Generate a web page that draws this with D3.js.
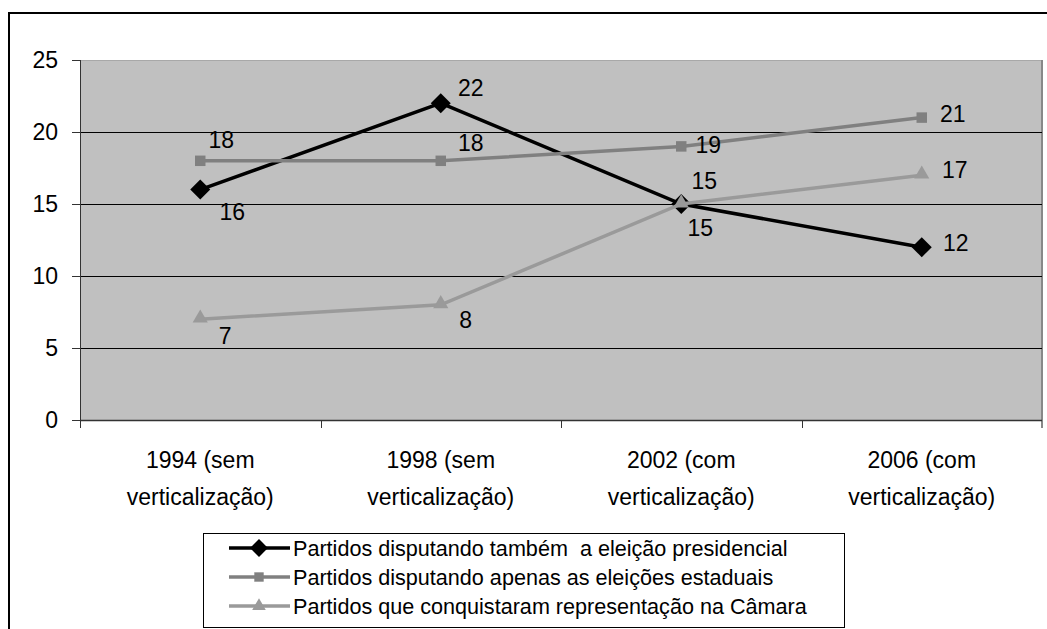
<!DOCTYPE html>
<html>
<head>
<meta charset="utf-8">
<script src="https://d3js.org/d3.v7.min.js"></script>
<style>
  body { margin: 0; background: #fff; }
  text { font-family: "Liberation Sans", Arial, sans-serif; fill: #000; }
</style>
</head>
<body>
<div id="chart"></div>
<script>
// data
var categories = ["1994 (sem\nverticalização)", "1998 (sem\nverticalização)", "2002 (com\nverticalização)", "2006 (com\nverticalização)"];
var seriesNames = [
  "Partidos disputando também  a eleição presidencial",
  "Partidos disputando apenas as eleições estaduais",
  "Partidos que conquistaram representação na Câmara"
];
var presidencial = [16, 22, 15, 12];
var estaduais = [18, 18, 19, 21];
var camara = [7, 8, 15, 17];
var yTicks = [0, 5, 10, 15, 20, 25];

// label nudges (px) for each point, as placed in the original
var labelOffsets = [
  [[32, 22], [30, -15], [19, 24], [34, -4]],
  [[21, -21], [30, -18], [27, -1], [31, -4]],
  [[25, 17], [25, 15], [23, -23], [33, -5]]
];

var FS = 23;

var series = [
  { name: seriesNames[0], values: presidencial, color: "#000000", marker: d3.symbolSquare, size: 200, rot: 45 },
  { name: seriesNames[1], values: estaduais, color: "#808080", marker: d3.symbolSquare, size: 110, rot: 0 },
  { name: seriesNames[2], values: camara, color: "#9a9a9a", marker: d3.symbolTriangle, size: 100, rot: 0 }
];

var W = 1047, H = 629;
var svg = d3.select("#chart").append("svg")
    .attr("width", W)
    .attr("height", H);

// outer frame
svg.append("rect")
    .attr("x", 9).attr("y", 13)
    .attr("width", W + 20).attr("height", H + 20)
    .attr("fill", "none")
    .attr("stroke", "#000")
    .attr("stroke-width", 2);

var x = d3.scaleBand().domain(categories).range([80, 1042]).paddingInner(0).paddingOuter(0);
var y = d3.scaleLinear().domain([0, 25]).range([420, 60]);

var cx = function(i) { return x(categories[i]) + x.bandwidth() / 2; };

// plot area
svg.append("rect")
    .attr("x", x.range()[0]).attr("y", y(25))
    .attr("width", x.range()[1] - x.range()[0])
    .attr("height", y(0) - y(25))
    .attr("fill", "#c0c0c0");

// top & right border of plot area
svg.append("line")
    .attr("x1", x.range()[0]).attr("x2", x.range()[1])
    .attr("y1", y(25) + 0.5).attr("y2", y(25) + 0.5)
    .attr("stroke", "#a8a8a8").attr("stroke-width", 1);
svg.append("line")
    .attr("x1", x.range()[1]).attr("x2", x.range()[1])
    .attr("y1", y(25)).attr("y2", y(0) + 8)
    .attr("stroke", "#888").attr("stroke-width", 2);

// gridlines
svg.append("g").selectAll("line")
    .data(yTicks.filter(function(d) { return d > 0 && d < 25; }))
    .enter().append("line")
    .attr("x1", x.range()[0]).attr("x2", x.range()[1])
    .attr("y1", function(d) { return Math.round(y(d)) + 0.5; })
    .attr("y2", function(d) { return Math.round(y(d)) + 0.5; })
    .attr("stroke", "#000").attr("stroke-width", 1);

// y axis
var yAxis = svg.append("g")
    .attr("transform", "translate(" + x.range()[0] + ",0)")
    .call(d3.axisLeft(y).tickValues(yTicks).tickSize(8).tickPadding(14));
yAxis.select(".domain").attr("d", "M0.5," + y(25) + "V" + (y(0) + 8)).attr("stroke", "#333");
yAxis.selectAll(".tick line").attr("stroke", "#333");
yAxis.selectAll("text")
    .style("font-family", "Liberation Sans, Arial, sans-serif")
    .style("font-size", FS + "px")
    .attr("fill", "#000");

// x axis line + ticks at band edges
svg.append("line")
    .attr("x1", x.range()[0]).attr("x2", x.range()[1])
    .attr("y1", y(0) + 0.5).attr("y2", y(0) + 0.5)
    .attr("stroke", "#333").attr("stroke-width", 1.5);
var edges = categories.map(function(c) { return x(c); }).concat([x.range()[1]]);
svg.append("g").selectAll("line")
    .data(edges.slice(1, 4))
    .enter().append("line")
    .attr("x1", function(d) { return Math.round(d) + 0.5; })
    .attr("x2", function(d) { return Math.round(d) + 0.5; })
    .attr("y1", y(0)).attr("y2", y(0) + 8)
    .attr("stroke", "#333");

// category labels
var xl = svg.append("g").selectAll("text")
    .data(categories)
    .enter().append("text")
    .attr("text-anchor", "middle")
    .attr("font-size", FS)
    .attr("x", function(d, i) { return cx(i); });
xl.each(function(d) {
  var t = d3.select(this);
  d.split("\n").forEach(function(part, k) {
    t.append("tspan")
      .attr("x", t.attr("x"))
      .attr("y", 468 + k * 37)
      .text(part);
  });
});

// lines and markers
var line = d3.line()
    .x(function(d, i) { return cx(i); })
    .y(function(d) { return y(d); });

series.forEach(function(s, si) {
  var g = svg.append("g");
  g.append("path")
    .attr("d", line(s.values))
    .attr("fill", "none")
    .attr("stroke", s.color)
    .attr("stroke-width", 3.5);
  g.selectAll("path.mk")
    .data(s.values)
    .enter().append("path")
    .attr("class", "mk")
    .attr("d", d3.symbol().type(s.marker).size(s.size))
    .attr("transform", function(d, i) {
      var t = "translate(" + cx(i) + "," + y(d) + ") rotate(" + s.rot + ")";
      if (s.marker === d3.symbolTriangle) t += " translate(0,-1)";
      return t;
    })
    .attr("fill", s.color);
});

// data labels drawn last
series.forEach(function(s, si) {
  svg.append("g").selectAll("text")
    .data(s.values)
    .enter().append("text")
    .attr("x", function(d, i) { return cx(i) + labelOffsets[si][i][0]; })
    .attr("y", function(d, i) { return y(d) + labelOffsets[si][i][1]; })
    .attr("text-anchor", "middle")
    .attr("dominant-baseline", "central")
    .attr("font-size", FS)
    .text(function(d) { return d; });
});

// legend
var legend = svg.append("g");
legend.append("rect")
    .attr("x", 203.5).attr("y", 533.5)
    .attr("width", 641).attr("height", 94)
    .attr("fill", "#fff")
    .attr("stroke", "#000").attr("stroke-width", 1);

series.forEach(function(s, si) {
  var ly = 548 + si * 29;
  legend.append("line")
    .attr("x1", 229).attr("x2", 290)
    .attr("y1", ly).attr("y2", ly)
    .attr("stroke", s.color).attr("stroke-width", 3.5);
  legend.append("path")
    .attr("d", d3.symbol().type(s.marker).size(s.size * 0.8))
    .attr("transform", "translate(259," + ly + ") rotate(" + s.rot + ")")
    .attr("fill", s.color);
  legend.append("text")
    .attr("x", 293).attr("y", ly)
    .attr("dominant-baseline", "central")
    .attr("font-size", 21.6)
    .style("white-space", "pre")
    .text(s.name);
});
</script>
</body>
</html>
